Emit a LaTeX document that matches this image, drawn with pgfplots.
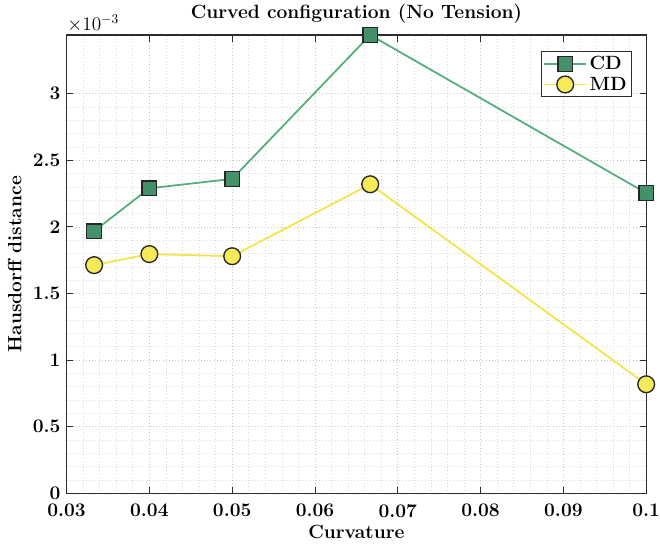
\documentclass[border=0pt]{standalone}
\usepackage{pgfplots}
\pgfplotsset{compat=1.18}
\definecolor{cdline}{RGB}{82,172,124}
\definecolor{cdfill}{RGB}{66,145,105}
\definecolor{mdline}{RGB}{240,228,70}
\definecolor{mdfill}{RGB}{245,234,88}
\begin{document}
\begin{tikzpicture}
\begin{axis}[
  scale only axis,
  width=435pt, height=344pt,
  xmin=0.03, xmax=0.1, ymin=0, ymax=3.44,
  xtick={0.03,0.04,0.05,0.06,0.07,0.08,0.09,0.1},
  xticklabels={0.03,0.04,0.05,0.06,0.07,0.08,0.09,0.1},
  ytick={0,0.5,1,1.5,2,2.5,3},
  yticklabels={0,0.5,1,1.5,2,2.5,3},
  minor x tick num=4, minor y tick num=4,
  tick align=inside,
  major tick length=5pt, minor tick length=0pt,
  grid=both,
  major grid style={dotted, gray!45, line width=0.6pt},
  minor grid style={dotted, gray!30, line width=0.5pt},
  axis line style={gray!35!black, line width=0.8pt},
  tick style={gray!35!black, line width=0.7pt},
  ticklabel style={font=\Large\bfseries},
  xticklabel style={yshift=-4.5pt, inner xsep=0pt},
  yticklabel style={xshift=-1pt, inner ysep=0pt},
  title={\bfseries Curved configuration (No Tension)},
  title style={font=\Large, yshift=-1pt},
  xlabel={\bfseries Curvature},
  ylabel={\bfseries Hausdorff distance},
  label style={font=\Large},
  xlabel style={yshift=1pt},
  ylabel style={yshift=-1pt, inner ysep=6pt},
  legend style={font=\Large\bfseries, draw=gray!35!black, line width=0.7pt, at={(0.975,0.965)}, anchor=north east, inner sep=1.5pt, row sep=0pt},
  legend image code/.code={
    \draw[#1, mark=none] (0cm,0cm) -- (1.1cm,0cm);
    \draw[#1, only marks] plot coordinates {(0.55cm,0cm)};
  },
  legend cell align=left,
  clip=false,
  after end axis/.code={\node[anchor=south west, font=\Large, inner sep=0.5pt, yshift=1.5pt] at (rel axis cs:0,1) {$\times10^{-3}$};},
]
\addplot[cdline, line width=1.3pt, mark=square*, mark size=5.5pt, mark options={fill=cdfill, draw=black!85, line width=1pt, solid}]
  coordinates {(0.03333,1.968) (0.04,2.29) (0.05,2.36) (0.06667,3.44) (0.1,2.254)};
\addlegendentry{CD}
\addplot[mdline, line width=1.3pt, mark=*, mark size=6.3pt, mark options={fill=mdfill, draw=black!85, line width=1pt, solid}]
  coordinates {(0.03333,1.713) (0.04,1.796) (0.05,1.78) (0.06667,2.32) (0.1,0.819)};
\addlegendentry{MD}
\end{axis}
\end{tikzpicture}
\end{document}
